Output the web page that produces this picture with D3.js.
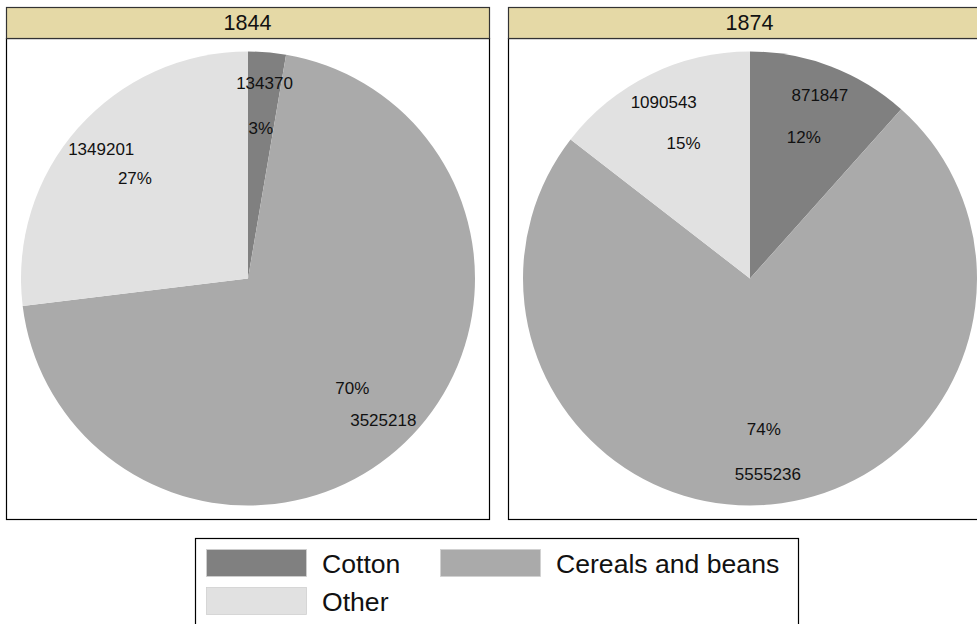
<!DOCTYPE html>
<html>
<head>
<meta charset="utf-8">
<script src="https://cdn.jsdelivr.net/npm/d3@7"></script>
<style>
  body { margin: 0; background: #fff; }
  svg { display: block; font-family: "Liberation Sans", Arial, Helvetica, sans-serif; }
</style>
</head>
<body>
<div class="chart"></div>
<script>
// data
const years = ["1844", "1874"];
const categories = ["Cotton", "Cereals and beans", "Other"];
const values1844 = [134370, 3525218, 1349201];
const values1874 = [871847, 5555236, 1090543];
const seriesValues = [values1844, values1874];

const colors = d3.scaleOrdinal()
  .domain(categories)
  .range(["#808080", "#aaaaaa", "#e1e1e1"]);

const W = 977, H = 624;

const svg = d3.select(".chart")
  .append("svg")
  .attr("width", W)
  .attr("height", H);

// panel layout
const panelW = 483;
const panelX = d3.scaleOrdinal().domain(years).range([6, 508]);
const headerTop = 7, headerBottom = 38, plotBottom = 519;
const radius = 227;

const pie = d3.pie().sort(null).value(d => d.value);
const arc = d3.arc().innerRadius(0).outerRadius(radius);
const valueArc = d3.arc().innerRadius(196).outerRadius(196);
const pctArc = d3.arc().innerRadius(151).outerRadius(151);

years.forEach((year, i) => {
  const x0 = panelX(year);
  const g = svg.append("g").attr("transform", `translate(${x0},0)`);

  // plot frame
  g.append("rect")
    .attr("x", 0.5)
    .attr("y", headerBottom + 0.5)
    .attr("width", panelW)
    .attr("height", plotBottom - headerBottom)
    .attr("fill", "#fff")
    .attr("stroke", "#000")
    .attr("stroke-width", 1.2);

  // header strip
  g.append("rect")
    .attr("x", 0.5)
    .attr("y", headerTop + 0.5)
    .attr("width", panelW)
    .attr("height", headerBottom - headerTop)
    .attr("fill", "#e5d9a6")
    .attr("stroke", "#333")
    .attr("stroke-width", 1.2);

  g.append("text")
    .attr("x", panelW / 2)
    .attr("y", 30)
    .attr("text-anchor", "middle")
    .attr("font-size", "21.5px")
    .attr("fill", "#111")
    .text(year);

  const data = categories.map((c, j) => ({ cat: c, value: seriesValues[i][j] }));
  const total = d3.sum(data, d => d.value);
  const arcs = pie(data);

  const pg = g.append("g")
    .attr("transform", `translate(${242},${(headerBottom + plotBottom) / 2})`);

  pg.selectAll("path")
    .data(arcs)
    .join("path")
    .attr("d", arc)
    .attr("fill", d => colors(d.data.cat));

  pg.selectAll(".val")
    .data(arcs)
    .join("text")
    .attr("class", "val")
    .attr("transform", d => `translate(${valueArc.centroid(d)})`)
    .attr("text-anchor", "middle")
    .attr("dy", "0.35em")
    .attr("font-size", "17px")
    .attr("fill", "#111")
    .text(d => d.data.value);

  pg.selectAll(".pct")
    .data(arcs)
    .join("text")
    .attr("class", "pct")
    .attr("transform", d => `translate(${pctArc.centroid(d)})`)
    .attr("text-anchor", "middle")
    .attr("dy", "0.35em")
    .attr("font-size", "17px")
    .attr("fill", "#111")
    .text(d => Math.round(d.data.value / total * 100) + "%");
});

// legend
const legend = svg.append("g").attr("class", "legend");
legend.append("rect")
  .attr("x", 195.5)
  .attr("y", 538.5)
  .attr("width", 603)
  .attr("height", 100)
  .attr("fill", "#fff")
  .attr("stroke", "#000")
  .attr("stroke-width", 1.2);

const legCol = [206, 440];
const legRow = [549, 587];
const items = legend.selectAll(".item")
  .data(categories)
  .join("g")
  .attr("class", "item")
  .attr("transform", (d, i) => `translate(${legCol[i % 2]},${legRow[Math.floor(i / 2)]})`);

items.append("rect")
  .attr("x", 0.5)
  .attr("y", 0.5)
  .attr("width", 100)
  .attr("height", 27)
  .attr("fill", d => colors(d))
  .attr("stroke", "#d0d0d0")
  .attr("stroke-width", 0.8);

items.append("text")
  .attr("x", 116)
  .attr("y", 24)
  .attr("font-size", "26.6px")
  .attr("fill", "#111")
  .text(d => d);
</script>
</body>
</html>
